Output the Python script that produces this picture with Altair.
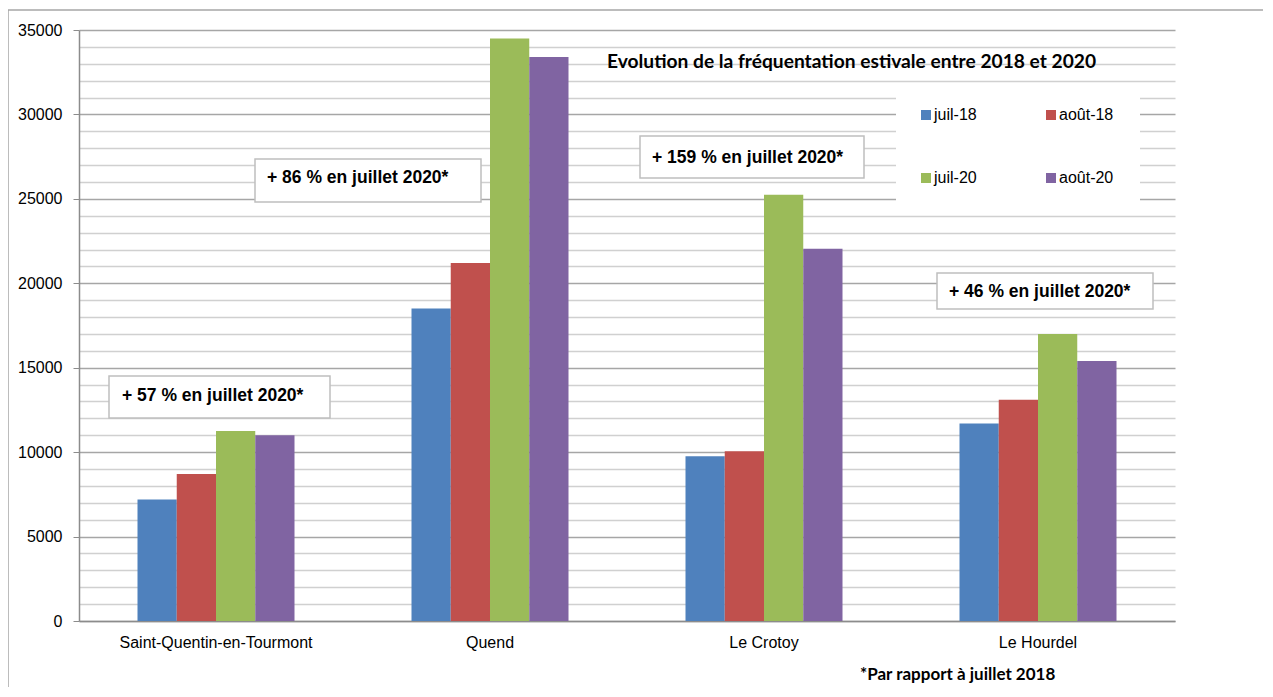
import altair as alt
import pandas as pd

# ---- data ----
categories = ["Saint-Quentin-en-Tourmont", "Quend", "Le Crotoy", "Le Hourdel"]
series = ["juil-18", "août-18", "juil-20", "août-20"]
juil_18 = [7200, 18500, 9750, 11700]
aout_18 = [8700, 21200, 10050, 13100]
juil_20 = [11250, 34500, 25250, 17000]
aout_20 = [11000, 33400, 22050, 15400]
colors = ["#4F81BD", "#C0504D", "#9BBB59", "#8064A2"]
legend_order = ["juil-18", "juil-20", "août-18", "août-20"]  # column-major fill
annotations = ["+ 57 % en juillet 2020*", "+ 86 % en juillet 2020*",
               "+ 159 % en juillet 2020*", "+ 46 % en juillet 2020*"]
title_text = "Evolution de la fréquentation estivale entre 2018 et 2020"
footnote_text = "*Par rapport à juillet 2018"

rows = []
for s, vals in zip(series, [juil_18, aout_18, juil_20, aout_20]):
    for c, v in zip(categories, vals):
        rows.append({"commune": c, "periode": s, "valeur": v})
df = pd.DataFrame(rows)

W, H = 1096, 591
FONT = "Liberation Sans"
major = "datum.value % 5000 === 0"

bars = alt.Chart(df).mark_bar().encode(
    x=alt.X("commune:N", sort=categories, title=None,
            scale=alt.Scale(paddingInner=0.427, paddingOuter=0.2135),
            axis=alt.Axis(ticks=False, labelAngle=0, labelFontSize=16, labelLimit=0,
                          labelFont=FONT, labelColor="#000000", labelPadding=13,
                          domainColor="#8c8c8c", domainWidth=1.5, grid=False)),
    xOffset=alt.XOffset("periode:N", sort=series),
    y=alt.Y("valeur:Q", title=None,
            scale=alt.Scale(domain=[0, 35000], nice=False),
            axis=alt.Axis(values=list(range(0, 35001, 1000)), format="d",
                          labelExpr="datum.value % 5000 === 0 ? datum.label : ''",
                          labelFontSize=16, labelFont=FONT, labelColor="#000000",
                          labelPadding=11, tickSize=6, tickColor="#8c8c8c",
                          tickOpacity={"condition": {"test": major, "value": 1}, "value": 0},
                          domainColor="#8c8c8c", domainWidth=1.5,
                          grid=True, gridWidth=1.5,
                          gridColor={"condition": {"test": major, "value": "#a6a6a6"},
                                     "value": "#d0d0d0"})),
    color=alt.Color("periode:N", sort=series,
                    scale=alt.Scale(domain=series, range=colors),
                    legend=alt.Legend(title=None, orient="none", legendX=839, legendY=77,
                                      values=legend_order,
                                      columns=2, symbolType="square", symbolSize=100,
                                      symbolStrokeWidth=0, labelFontSize=16, labelFont=FONT,
                                      labelColor="#000000", labelOffset=0,
                                      columnPadding=66, rowPadding=47, padding=0)),
)

one = pd.DataFrame({"k": [0]})


def box(x1, x2, y1, y2, stroke=True):
    m = alt.Chart(one).mark_rect(fill="white",
                                 stroke="#bfbfbf" if stroke else "white",
                                 strokeWidth=1.5 if stroke else 0)
    return m.encode(x=alt.value(x1), x2=alt.value(x2), y=alt.value(y1), y2=alt.value(y2))


def label(txt, x, y, size, font, weight="bold"):
    return alt.Chart(one).mark_text(text=txt, align="left", baseline="middle",
                                    fontSize=size, font=font, fontWeight=weight,
                                    color="#000000").encode(x=alt.value(x), y=alt.value(y))


legend_bg = box(817, 1061, 55, 175, stroke=False)

ann_boxes = [
    (30, 251, 346, 388, 43, 366),
    (176, 402, 129, 172, 188, 148),
    (561, 785, 106, 148, 573, 128),
    (858, 1074, 243, 279, 870, 262),
]
ann_layers = []
for txt, (x1, x2, y1, y2, tx, ty) in zip(annotations, ann_boxes):
    ann_layers.append(box(x1, x2, y1, y2))
    ann_layers.append(label(txt, tx, ty, 17.5, FONT))

title = label(title_text, 528, 32, 19.2, "Lato")
footnote = label(footnote_text, 781, 645, 17, "Lato")

frame_top = alt.Chart(one).mark_rule(color="#a6a6a6", strokeWidth=1.5).encode(
    x=alt.value(-71), x2=alt.value(1200), y=alt.value(-20))
frame_left = alt.Chart(one).mark_rule(color="#a6a6a6", strokeWidth=1.5).encode(
    x=alt.value(-71), y=alt.value(-20), y2=alt.value(700))

chart = alt.layer(
    bars, legend_bg, *ann_layers, title, footnote, frame_top, frame_left
).properties(
    width=W, height=H,
    padding={"left": 71, "top": 22, "right": 88, "bottom": 66},
    autosize=alt.AutoSizeParams(type="none"),
).configure_view(stroke="transparent")

chart.save("out.html", embed_options={"renderer": "svg", "actions": False})
